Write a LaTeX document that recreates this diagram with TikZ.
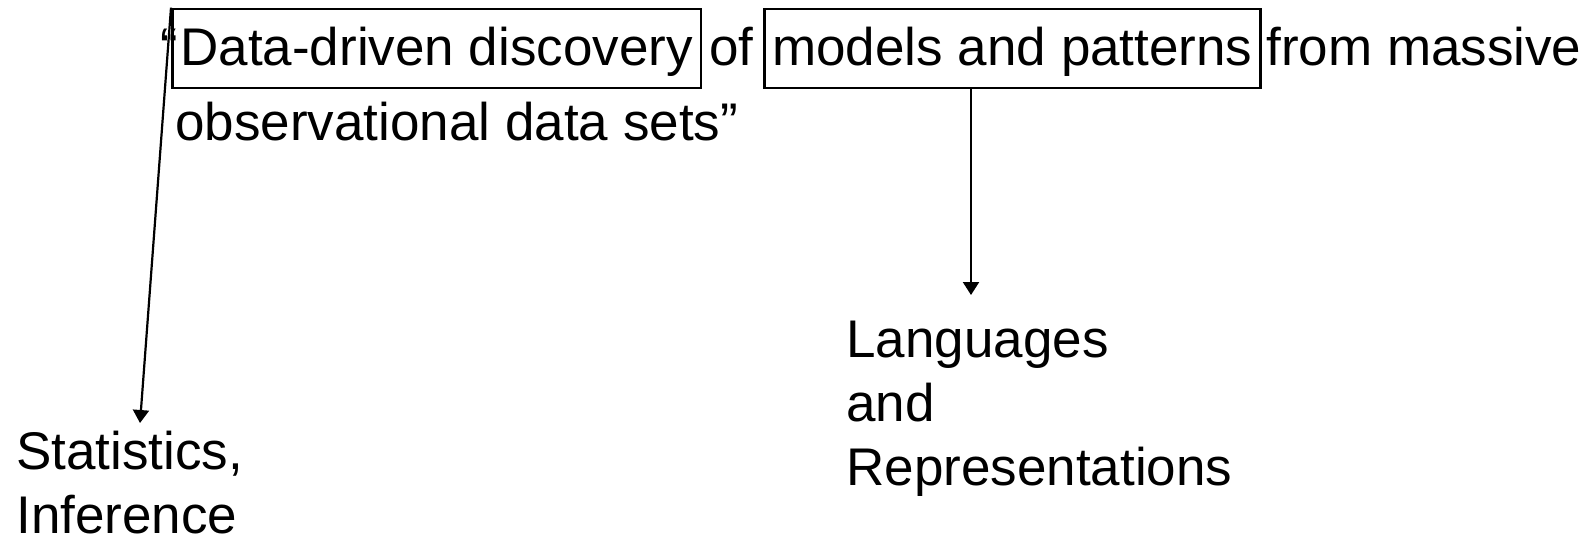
\documentclass[tikz,border=0pt]{standalone}
\usepackage{fontspec}
\setmainfont{Liberation Sans}
\usetikzlibrary{arrows.meta}
\begin{document}
\begin{tikzpicture}[x=0.5pt,y=-0.5pt,
  every node/.style={inner sep=0pt, font=\fontsize{26.5}{32}\selectfont},
  txt/.style={anchor=base west},
  framed/.style={draw, line width=1.35pt, anchor=base west, inner xsep=4pt,
                 inner ysep=0pt, text height=28pt, text depth=11.5pt},
  link/.style={-{Triangle[width=8pt,length=6.5pt]}, line width=1.1pt}]
\useasboundingbox (0,0) rectangle (1593,537);

% quoted definition, first line with the two framed phrases
\node[txt] (oq) at (160,65) {“};
\node[framed] (ddd) at (171,65) {Data-driven discovery};
\node[txt] (of) at (709,65) {of};
\node[framed] (mp) at (763,65) {models and patterns};
\node[txt] (fm) at (1266,65) {from massive};
\node[txt] (obs) at (175,140) {observational data sets”};

% the two fields the framed phrases point to (base = last line)
\node[txt, align=left] (stat) at (16,533) {Statistics,\\Inference};
\node[txt, align=left] (lang) at (846,485) {Languages\\and\\Representations};

\coordinate (stattip) at (140,423);
\coordinate (langtip) at (971,295);

\draw[link] (ddd.north west) -- (stattip);
\draw[link] (mp.south -| langtip) -- (langtip);
\end{tikzpicture}
\end{document}
